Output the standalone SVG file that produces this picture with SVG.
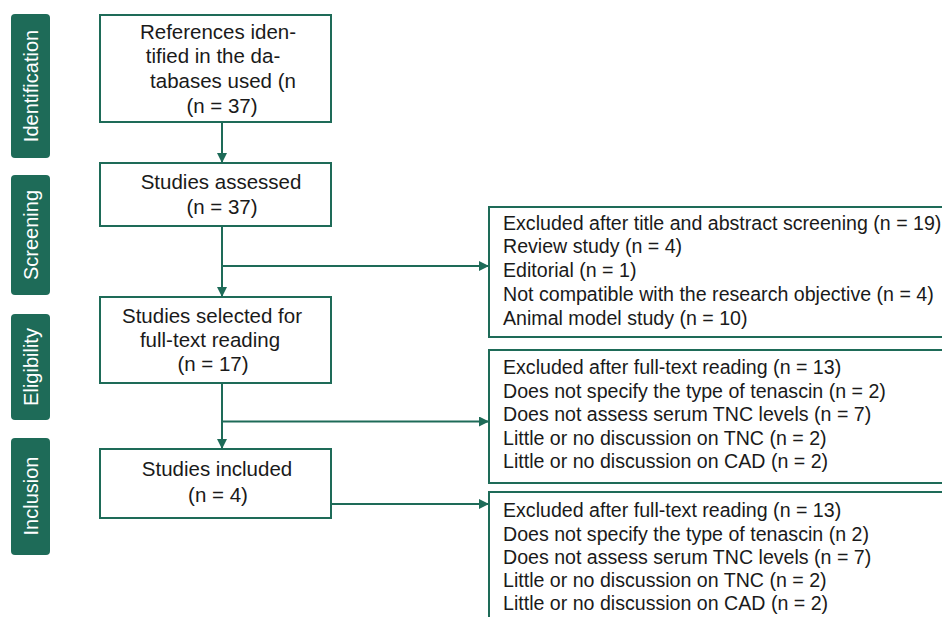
<svg xmlns="http://www.w3.org/2000/svg" width="942" height="617" viewBox="0 0 942 617">
<style>
  .tag{fill:#1e6b58;}
  .tagt{fill:#ffffff;font-family:"Liberation Sans",Arial,sans-serif;font-size:20px;text-anchor:middle;}
  .box{fill:#ffffff;stroke:#1e6b58;stroke-width:2;}
  .t{fill:#1a1a1a;font-family:"Liberation Sans",Arial,sans-serif;font-size:19.6px;}
  .c{text-anchor:middle;font-size:20.5px;}
  .ln{fill:none;stroke:#1e6b58;stroke-width:2;}
</style>
<defs>
  <marker id="ah" viewBox="0 0 10 10" refX="10" refY="5" markerWidth="5" markerHeight="5" orient="auto" markerUnits="strokeWidth">
    <path d="M0,0 L10,5 L0,10 z" fill="#1e6b58"/>
  </marker>
</defs>
<rect width="942" height="617" fill="#ffffff"/>

<g id="phase-identification">
  <rect class="tag" x="11" y="14" width="39" height="144" rx="4"/>
  <text class="tagt" transform="translate(38,86) rotate(-90)">Identification</text>
</g>
<g id="phase-screening">
  <rect class="tag" x="11" y="175" width="39" height="120" rx="4"/>
  <text class="tagt" transform="translate(38,235) rotate(-90)">Screening</text>
</g>
<g id="phase-eligibility">
  <rect class="tag" x="11" y="314" width="39" height="106" rx="4"/>
  <text class="tagt" transform="translate(38,367) rotate(-90)">Eligibility</text>
</g>
<g id="phase-inclusion">
  <rect class="tag" x="11" y="438" width="39" height="117" rx="4"/>
  <text class="tagt" transform="translate(38,496) rotate(-90)">Inclusion</text>
</g>

<g id="connectors">
  <line class="ln" x1="222" y1="122" x2="222" y2="163" marker-end="url(#ah)"/>
  <line class="ln" x1="222" y1="226" x2="222" y2="297" marker-end="url(#ah)"/>
  <line class="ln" x1="222" y1="383" x2="222" y2="449" marker-end="url(#ah)"/>
  <line class="ln" x1="222" y1="266" x2="489" y2="266" marker-end="url(#ah)"/>
  <line class="ln" x1="222" y1="421.5" x2="489" y2="421.5" marker-end="url(#ah)"/>
  <line class="ln" x1="331" y1="504" x2="489" y2="504" marker-end="url(#ah)"/>
</g>

<g id="box-identified">
  <rect class="box" x="100" y="15" width="231" height="107"/>
  <text class="t c" x="218" y="39">References iden-</text>
  <text class="t c" x="213" y="63">tified in the da-</text>
  <text class="t c" x="223" y="88">tabases used (n</text>
  <text class="t c" x="222" y="113">(n = 37)</text>
</g>
<g id="box-assessed">
  <rect class="box" x="100" y="163" width="231" height="63"/>
  <text class="t c" x="221" y="189">Studies assessed</text>
  <text class="t c" x="222" y="214">(n = 37)</text>
</g>
<g id="box-selected">
  <rect class="box" x="100" y="297" width="231" height="86"/>
  <text class="t c" x="212" y="323">Studies selected for</text>
  <text class="t c" x="210" y="347">full-text reading</text>
  <text class="t c" x="213" y="371">(n = 17)</text>
</g>
<g id="box-included">
  <rect class="box" x="100" y="449" width="231" height="69"/>
  <text class="t c" x="217" y="476">Studies included</text>
  <text class="t c" x="218" y="502">(n = 4)</text>
</g>

<g id="box-excluded-screening">
  <rect class="box" x="489" y="207" width="500" height="130"/>
  <text class="t" x="503" y="230">Excluded after title and abstract screening (n = 19)</text>
  <text class="t" x="503" y="253">Review study (n = 4)</text>
  <text class="t" x="503" y="277">Editorial (n = 1)</text>
  <text class="t" x="503" y="301">Not compatible with the research objective (n = 4)</text>
  <text class="t" x="503" y="325">Animal model study (n = 10)</text>
</g>
<g id="box-excluded-fulltext">
  <rect class="box" x="489" y="350" width="500" height="133"/>
  <text class="t" x="503" y="374">Excluded after full-text reading (n = 13)</text>
  <text class="t" x="503" y="398">Does not specify the type of tenascin (n = 2)</text>
  <text class="t" x="503" y="421">Does not assess serum TNC levels (n = 7)</text>
  <text class="t" x="503" y="445">Little or no discussion on TNC (n = 2)</text>
  <text class="t" x="503" y="468">Little or no discussion on CAD (n = 2)</text>
</g>
<g id="box-excluded-inclusion">
  <rect class="box" x="489" y="492" width="500" height="140"/>
  <text class="t" x="503" y="517">Excluded after full-text reading (n = 13)</text>
  <text class="t" x="503" y="541">Does not specify the type of tenascin (n 2)</text>
  <text class="t" x="503" y="564">Does not assess serum TNC levels (n = 7)</text>
  <text class="t" x="503" y="587">Little or no discussion on TNC (n = 2)</text>
  <text class="t" x="503" y="610">Little or no discussion on CAD (n = 2)</text>
</g>
</svg>
